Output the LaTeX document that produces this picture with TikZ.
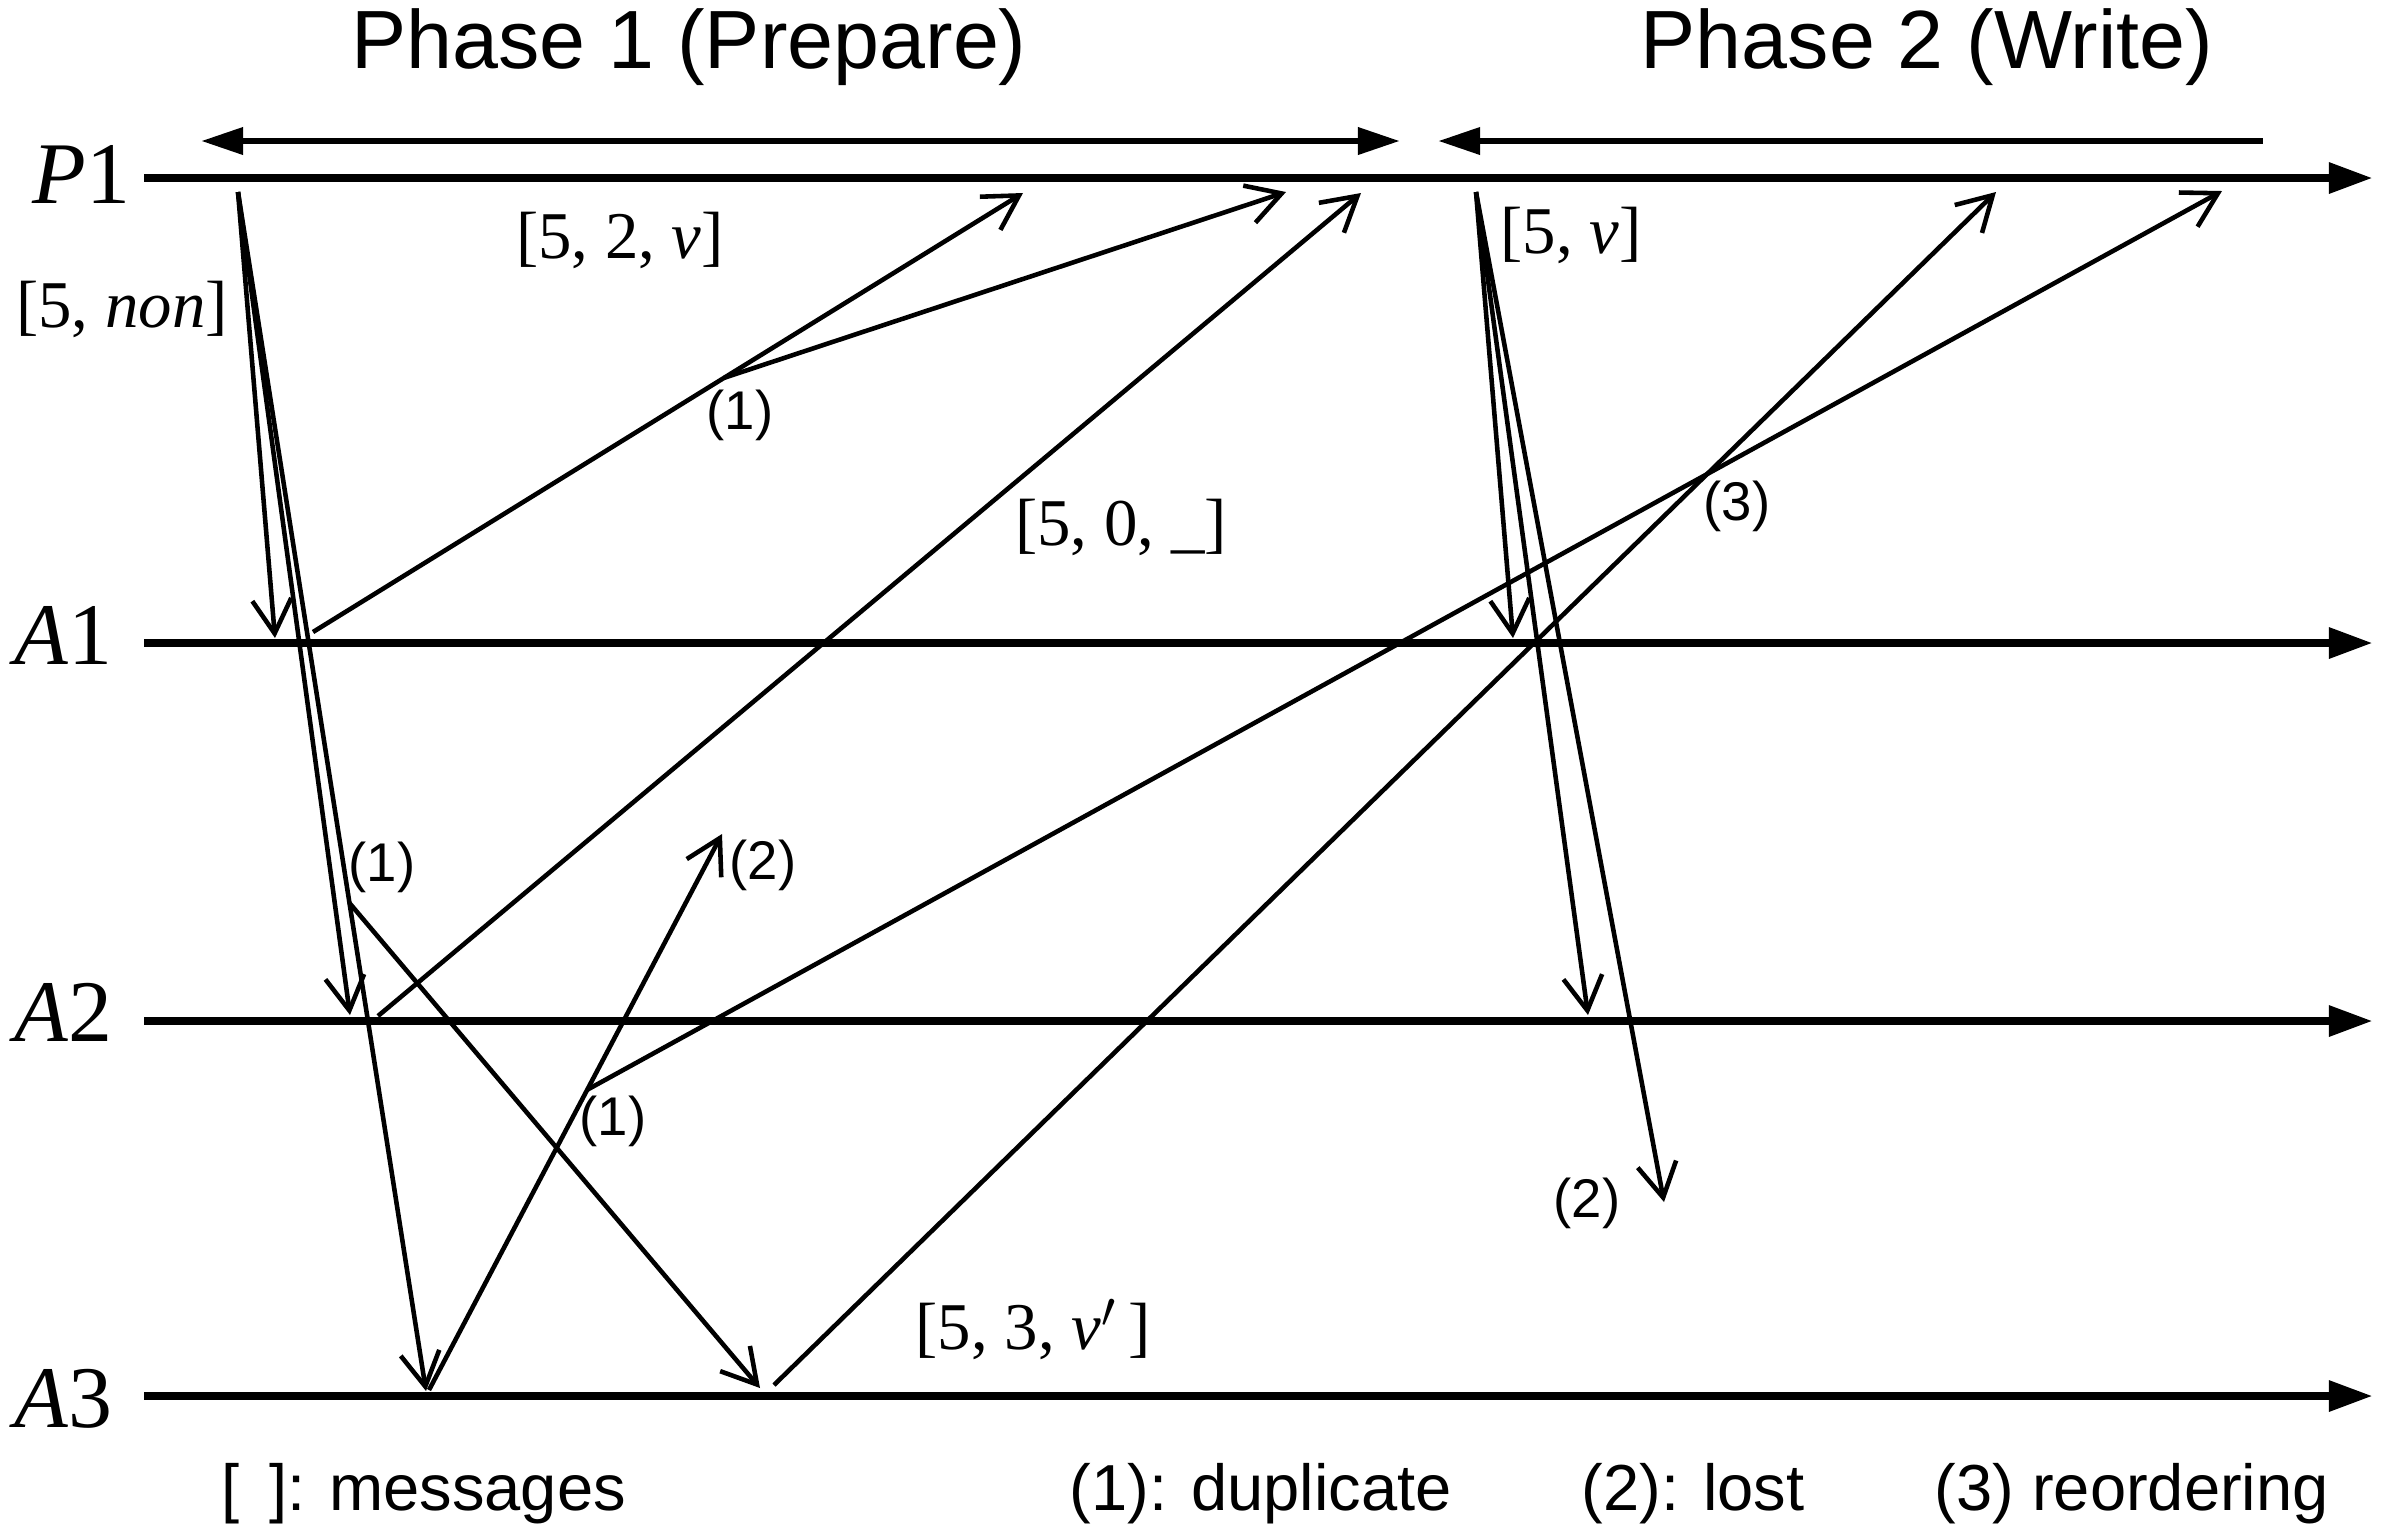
\documentclass[tikz,border=0pt]{standalone}
\usepackage{fontspec}
\setmainfont{Liberation Serif}
\newfontfamily\arialfont{Liberation Sans}
\usetikzlibrary{arrows.meta,calc}

\begin{document}
\begin{tikzpicture}[
    x=0.01cm, y=-0.01cm,
    timeline/.style={line width=2.5pt, -{Triangle[length=4.4mm, width=2.9mm]}},
    phase/.style={line width=1.9pt},
    msg/.style={line width=1.3pt, -{Straight Barb[length=3.4mm, width=3.9mm]}},
    proc/.style={font=\fontsize{25}{25}\selectfont, inner sep=0pt, anchor=base west},
    mval/.style={font=\fontsize{19}{19}\selectfont, inner sep=0pt},
    fault/.style={font=\arialfont\fontsize{15.5}{15.5}\selectfont, inner sep=0pt},
    phasetitle/.style={font=\arialfont\fontsize{23.5}{23.5}\selectfont, inner sep=0pt, anchor=base},
    keytext/.style={font=\arialfont\fontsize{18.5}{18.5}\selectfont, inner sep=0pt, anchor=base west}
]
    \useasboundingbox (0,0) rectangle (2384,1538);

    % Processes and their time lines
    \foreach \name/\yy in {p1/178, a1/643, a2/1021, a3/1396} {
        \coordinate (\name-start) at (144,\yy);
        \coordinate (\name-end) at (2373,\yy);
        \draw [timeline] (\name-start) -- (\name-end);
    }
    \node [proc] (p1lbl) at (32,203) {\textit{P}1};
    \node [proc] (a1lbl) at (14,664) {\textit{A}1};
    \node [proc] (a2lbl) at (14,1041) {\textit{A}2};
    \node [proc] (a3lbl) at (14,1427) {\textit{A}3};

    % Phases
    \coordinate (ph1-start) at (201,141);
    \coordinate (ph1-end) at (1400,141);
    \coordinate (ph2-start) at (1438,141);
    \coordinate (ph2-end) at (2263,141);
    \draw [phase, {Triangle[length=4.2mm, width=2.6mm]}-{Triangle[length=4.2mm, width=2.6mm]}] (ph1-start) -- (ph1-end);
    \draw [phase, {Triangle[length=4.2mm, width=2.6mm]}-] (ph2-start) -- (ph2-end);
    \node [phasetitle] (ph1) at (689,68) {Phase 1 (Prepare)};
    \node [phasetitle] (ph2) at (1927,68) {Phase 2 (Write)};

    % Phase 1: prepare
    \coordinate (prep) at (238,192);
    \coordinate (prep-a1) at (275,638);
    \coordinate (prep-a2) at (350,1015);
    \coordinate (prep-a3) at (426,1391);
    \draw [msg] (prep) -- (prep-a1);
    \draw [msg] (prep) -- (prep-a2);
    \draw [msg] (prep) -- (prep-a3);
    \coordinate (dup1) at ($(prep)!0.593!(prep-a3)$);
    \coordinate (dup1-a3) at (760,1388);
    \draw [msg] (dup1) -- (dup1-a3);

    % Phase 1: replies
    \coordinate (a1-rep) at (313,632);
    \coordinate (a1-rep-p1) at (1023,193);
    \coordinate (dup2) at ($(a1-rep)!0.579!(a1-rep-p1)$);
    \coordinate (dup2-p1) at (1286,192);
    \draw [msg] (a1-rep) -- (a1-rep-p1);
    \draw [msg] (dup2) -- (dup2-p1);

    \coordinate (a2-rep) at (378,1016);
    \coordinate (a2-rep-p1) at (1361,193);
    \draw [msg] (a2-rep) -- (a2-rep-p1);

    \coordinate (a3-rep) at (429,1390);
    \coordinate (a3-lost) at (722,834);
    \draw [msg] (a3-rep) -- (a3-lost);
    \coordinate (dup3) at ($(a3-rep)!0.54!(a3-lost)$);
    \coordinate (dup3-p1) at (2222,191);
    \draw [msg] (dup3) -- (dup3-p1);

    \coordinate (a3-rep2) at (774,1385);
    \coordinate (a3-rep2-p1) at (1996,192);
    \draw [msg] (a3-rep2) -- (a3-rep2-p1);

    % Phase 2: write
    \coordinate (wr) at (1476,192);
    \coordinate (wr-a1) at (1513,638);
    \coordinate (wr-a2) at (1588,1015);
    \coordinate (wr-lost) at (1664,1202);
    \draw [msg] (wr) -- (wr-a1);
    \draw [msg] (wr) -- (wr-a2);
    \draw [msg] (wr) -- (wr-lost);

    % Message contents
    \node [mval] (m-non) at (122,309) {[5, \textit{non}]};
    \node [mval] (m-prom) at (620,240) {[5, 2, \textit{v}]};
    \node [mval] (m-empty) at (1121,527) {[5, 0, \_]};
    \node [mval] (m-acc) at (1571,235) {[5, \textit{v}]};
    \node [mval] (m-prom3) at (1033,1330) {[5, 3, \textit{v}$^{\prime}$\,]};

    % Faults
    \node [fault] (f-dup1) at (382,867) {(1)};
    \node [fault] (f-dup2) at (740,415) {(1)};
    \node [fault] (f-dup3) at (613,1121) {(1)};
    \node [fault] (f-lost1) at (763,865) {(2)};
    \node [fault] (f-lost2) at (1587,1203) {(2)};
    \node [fault] (f-reord) at (1737,506) {(3)};

    % Key
    \node [keytext] (k-msg) at (221,1510) {[\hspace{0.45em}]: messages};
    \node [keytext] (k-dup) at (1069,1510) {(1): duplicate};
    \node [keytext] (k-lost) at (1581,1510) {(2): lost};
    \node [keytext] (k-reord) at (1934,1510) {(3) reordering};
\end{tikzpicture}
\end{document}
